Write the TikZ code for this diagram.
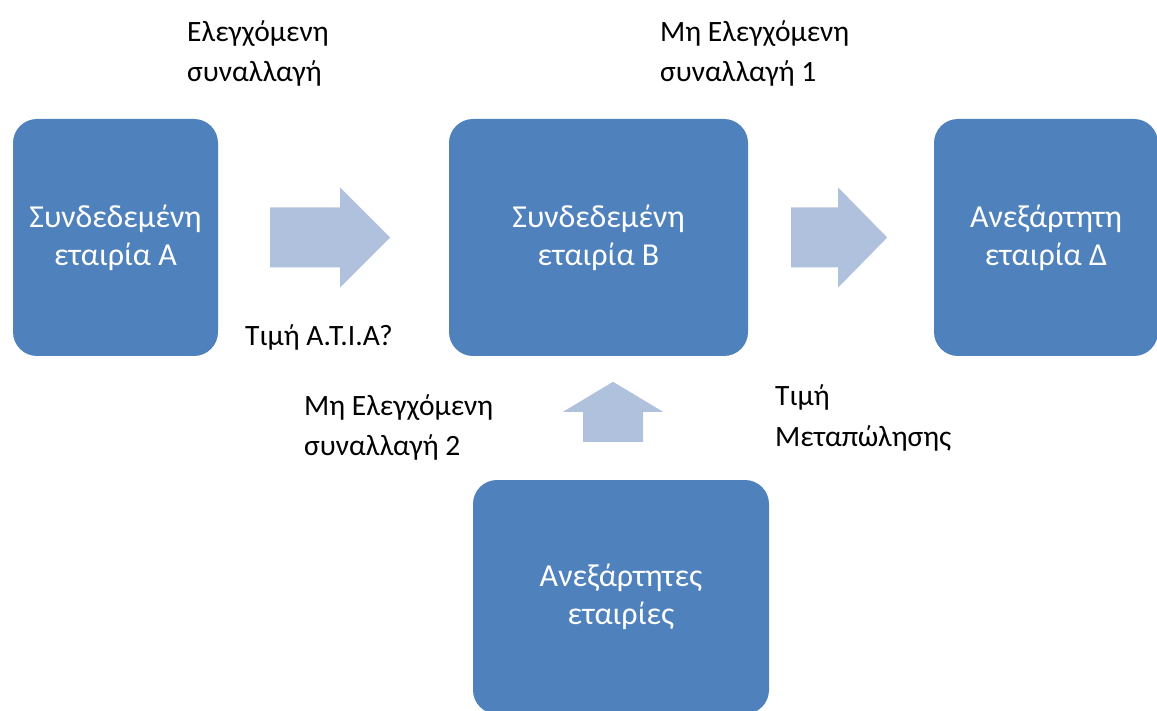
\documentclass[tikz,border=0pt]{standalone}
\usepackage{fontspec}
\setmainfont{Carlito}
\usetikzlibrary{calc}
\definecolor{firmblue}{RGB}{79,129,189}
\definecolor{flowblue}{RGB}{176,193,222}

\begin{document}
\begin{tikzpicture}[x=1pt,y=-1pt]
\tikzstyle{firm}=[fill=firmblue, rounded corners=24pt, align=center, text=white, inner sep=0pt, font=\fontsize{32}{38}\selectfont]
\tikzstyle{lbl}=[align=left, anchor=base west, inner sep=0pt, font=\fontsize{29.5}{40}\selectfont]
\tikzstyle{flow}=[fill=flowblue]

\useasboundingbox (0,0) rectangle (1157,711);

% companies
\node[firm, minimum width=205pt, minimum height=237pt] (A) at (115.5,237.5) {Συνδεδεμένη\\εταιρία Α};
\node[firm, minimum width=299pt, minimum height=237pt] (B) at (598.5,237.5) {Συνδεδεμένη\\εταιρία Β};
\node[firm, minimum width=224pt, minimum height=237pt] (D) at (1046,237.5) {Ανεξάρτητη\\εταιρία Δ};
\node[firm, minimum width=296pt, minimum height=234pt] (C) at (621,597) {Ανεξάρτητες\\εταιρίες};

% block arrows between the companies
\coordinate (t1) at ($(A.east)+(52,0)$);
\fill[flow] ($(t1)+(0,-30)$) -- ++(70,0) -- ++(0,-20) -- ++(50,50) -- ++(-50,50) -- ++(0,-20) -- ++(-70,0) -- cycle;
\coordinate (t2) at ($(B.east)+(43,0)$);
\fill[flow] ($(t2)+(0,-30)$) -- ++(47,0) -- ++(0,-20) -- ++(49,50) -- ++(-49,50) -- ++(0,-20) -- ++(-47,0) -- cycle;
\coordinate (t3) at ($(C.north)+(-8,-38)$);
\fill[flow] ($(t3)+(-30,0)$) -- ++(0,-30) -- ++(-20,0) -- ++(50,-30) -- ++(50,30) -- ++(-20,0) -- ++(0,30) -- cycle;

% labels (base = last line)
\node[lbl] (ctrl) at (187,82) {Ελεγχόμενη\\συναλλαγή};
\node[lbl] (unctrl1) at (660,82) {Μη Ελεγχόμενη\\συναλλαγή 1};
\node[lbl] (price) at (245,346) {Τιμή Α.Τ.Ι.Α?};
\node[lbl] (unctrl2) at (304,455) {Μη Ελεγχόμενη\\συναλλαγή 2};
\node[lbl] (resale) at (775,446) {Τιμή\\Μεταπώλησης};

\end{tikzpicture}
\end{document}
